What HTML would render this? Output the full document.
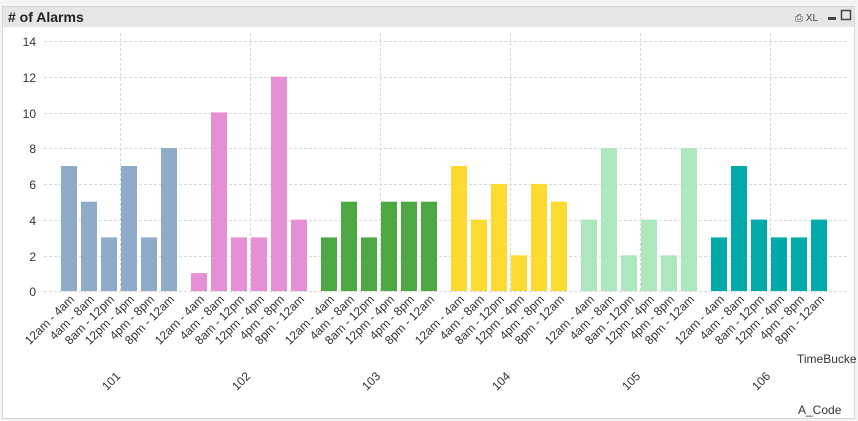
<!DOCTYPE html>
<html><head><meta charset="utf-8"><style>
html,body{margin:0;padding:0;background:#fff;width:858px;height:421px;overflow:hidden}
svg{display:block;font-family:"Liberation Sans",Arial,sans-serif}
</style></head><body>
<svg width="858" height="421" viewBox="0 0 858 421">
<rect x="0" y="0" width="858" height="421" fill="#f4f4f4"/>
<rect x="2.5" y="6.5" width="852" height="412" fill="#fff" stroke="#d6d6d6"/>
<rect x="3" y="7" width="851" height="20" fill="#e6e6e6"/>
<text x="8" y="22" font-size="14" font-weight="bold" fill="#222"># of Alarms</text>
<text x="795" y="21" font-size="10" fill="#444">⎙ XL</text>
<rect x="828" y="17" width="8" height="3" fill="#444"/>
<rect x="841.5" y="10.5" width="9" height="9" fill="none" stroke="#444" stroke-width="1.5"/>
<g stroke="#d9d9d9" stroke-dasharray="3,2" stroke-width="1">
<line x1="44" y1="41.5" x2="847" y2="41.5"/>
<line x1="44" y1="77.5" x2="847" y2="77.5"/>
<line x1="44" y1="113.5" x2="847" y2="113.5"/>
<line x1="44" y1="148.5" x2="847" y2="148.5"/>
<line x1="44" y1="184.5" x2="847" y2="184.5"/>
<line x1="44" y1="220.5" x2="847" y2="220.5"/>
<line x1="44" y1="256.5" x2="847" y2="256.5"/>
<line x1="44" y1="291.5" x2="847" y2="291.5"/>
<line x1="120.5" y1="33" x2="120.5" y2="291"/>
<line x1="250.5" y1="33" x2="250.5" y2="291"/>
<line x1="380.5" y1="33" x2="380.5" y2="291"/>
<line x1="510.5" y1="33" x2="510.5" y2="291"/>
<line x1="640.5" y1="33" x2="640.5" y2="291"/>
<line x1="770.5" y1="33" x2="770.5" y2="291"/>
</g>
<g font-size="12" fill="#333" text-anchor="end">
<text x="36" y="46">14</text><text x="36" y="82">12</text><text x="36" y="118">10</text>
<text x="36" y="153">8</text><text x="36" y="189">6</text><text x="36" y="225">4</text>
<text x="36" y="261">2</text><text x="36" y="296">0</text>
</g>
<g fill="#8fabca">
<rect x="61" y="166" width="16" height="125"/>
<rect x="81" y="201.7" width="16" height="89.3"/>
<rect x="101" y="237.4" width="16" height="53.6"/>
<rect x="121" y="166" width="16" height="125"/>
<rect x="141" y="237.4" width="16" height="53.6"/>
<rect x="161" y="148.1" width="16" height="142.9"/>
</g>
<g fill="#e68fd4">
<rect x="191" y="273.1" width="16" height="17.9"/>
<rect x="211" y="112.4" width="16" height="178.6"/>
<rect x="231" y="237.4" width="16" height="53.6"/>
<rect x="251" y="237.4" width="16" height="53.6"/>
<rect x="271" y="76.7" width="16" height="214.3"/>
<rect x="291" y="219.6" width="16" height="71.4"/>
</g>
<g fill="#4ca843">
<rect x="321" y="237.4" width="16" height="53.6"/>
<rect x="341" y="201.7" width="16" height="89.3"/>
<rect x="361" y="237.4" width="16" height="53.6"/>
<rect x="381" y="201.7" width="16" height="89.3"/>
<rect x="401" y="201.7" width="16" height="89.3"/>
<rect x="421" y="201.7" width="16" height="89.3"/>
</g>
<g fill="#fdda2f">
<rect x="451" y="166" width="16" height="125"/>
<rect x="471" y="219.6" width="16" height="71.4"/>
<rect x="491" y="183.9" width="16" height="107.1"/>
<rect x="511" y="255.3" width="16" height="35.7"/>
<rect x="531" y="183.9" width="16" height="107.1"/>
<rect x="551" y="201.7" width="16" height="89.3"/>
</g>
<g fill="#ade7bd">
<rect x="581" y="219.6" width="16" height="71.4"/>
<rect x="601" y="148.1" width="16" height="142.9"/>
<rect x="621" y="255.3" width="16" height="35.7"/>
<rect x="641" y="219.6" width="16" height="71.4"/>
<rect x="661" y="255.3" width="16" height="35.7"/>
<rect x="681" y="148.1" width="16" height="142.9"/>
</g>
<g fill="#00aaa8">
<rect x="711" y="237.4" width="16" height="53.6"/>
<rect x="731" y="166" width="16" height="125"/>
<rect x="751" y="219.6" width="16" height="71.4"/>
<rect x="771" y="237.4" width="16" height="53.6"/>
<rect x="791" y="237.4" width="16" height="53.6"/>
<rect x="811" y="219.6" width="16" height="71.4"/>
</g>
<g font-size="12" fill="#333" text-anchor="end">
<text transform="translate(75,300) rotate(-45)">12am - 4am</text>
<text transform="translate(95,300) rotate(-45)">4am - 8am</text>
<text transform="translate(115,300) rotate(-45)">8am - 12pm</text>
<text transform="translate(135,300) rotate(-45)">12pm - 4pm</text>
<text transform="translate(155,300) rotate(-45)">4pm - 8pm</text>
<text transform="translate(175,300) rotate(-45)">8pm - 12am</text>
<text transform="translate(205,300) rotate(-45)">12am - 4am</text>
<text transform="translate(225,300) rotate(-45)">4am - 8am</text>
<text transform="translate(245,300) rotate(-45)">8am - 12pm</text>
<text transform="translate(265,300) rotate(-45)">12pm - 4pm</text>
<text transform="translate(285,300) rotate(-45)">4pm - 8pm</text>
<text transform="translate(305,300) rotate(-45)">8pm - 12am</text>
<text transform="translate(335,300) rotate(-45)">12am - 4am</text>
<text transform="translate(355,300) rotate(-45)">4am - 8am</text>
<text transform="translate(375,300) rotate(-45)">8am - 12pm</text>
<text transform="translate(395,300) rotate(-45)">12pm - 4pm</text>
<text transform="translate(415,300) rotate(-45)">4pm - 8pm</text>
<text transform="translate(435,300) rotate(-45)">8pm - 12am</text>
<text transform="translate(465,300) rotate(-45)">12am - 4am</text>
<text transform="translate(485,300) rotate(-45)">4am - 8am</text>
<text transform="translate(505,300) rotate(-45)">8am - 12pm</text>
<text transform="translate(525,300) rotate(-45)">12pm - 4pm</text>
<text transform="translate(545,300) rotate(-45)">4pm - 8pm</text>
<text transform="translate(565,300) rotate(-45)">8pm - 12am</text>
<text transform="translate(595,300) rotate(-45)">12am - 4am</text>
<text transform="translate(615,300) rotate(-45)">4am - 8am</text>
<text transform="translate(635,300) rotate(-45)">8am - 12pm</text>
<text transform="translate(655,300) rotate(-45)">12pm - 4pm</text>
<text transform="translate(675,300) rotate(-45)">4pm - 8pm</text>
<text transform="translate(695,300) rotate(-45)">8pm - 12am</text>
<text transform="translate(725,300) rotate(-45)">12am - 4am</text>
<text transform="translate(745,300) rotate(-45)">4am - 8am</text>
<text transform="translate(765,300) rotate(-45)">8am - 12pm</text>
<text transform="translate(785,300) rotate(-45)">12pm - 4pm</text>
<text transform="translate(805,300) rotate(-45)">4pm - 8pm</text>
<text transform="translate(825,300) rotate(-45)">8pm - 12am</text>
</g>
<g font-size="12" fill="#333" text-anchor="middle">
<text transform="translate(114,384) rotate(-45)">101</text>
<text transform="translate(244,384) rotate(-45)">102</text>
<text transform="translate(374,384) rotate(-45)">103</text>
<text transform="translate(504,384) rotate(-45)">104</text>
<text transform="translate(634,384) rotate(-45)">105</text>
<text transform="translate(764,384) rotate(-45)">106</text>
</g>
<text x="797" y="363" font-size="12" fill="#333">TimeBucke</text>
<text x="798" y="414" font-size="12" fill="#333">A_Code</text>
</svg>
</body></html>
